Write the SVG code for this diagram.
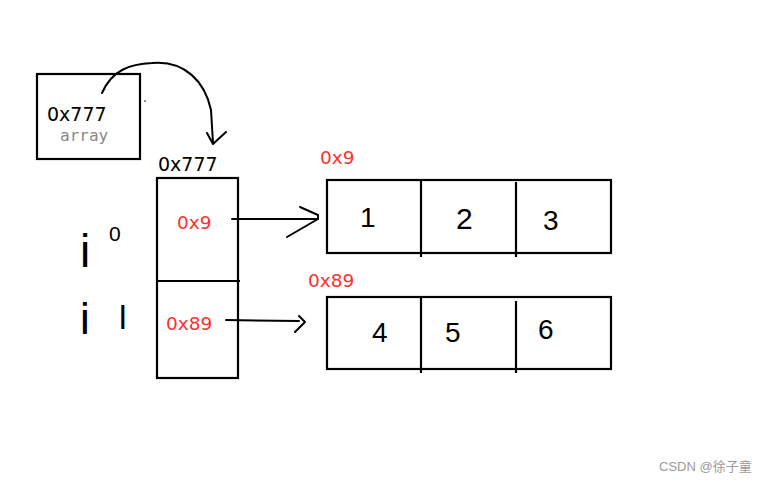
<svg xmlns="http://www.w3.org/2000/svg" width="774" height="484" viewBox="0 0 774 484">
<style>
.box{fill:none;stroke:#000;stroke-width:2.2}
.ln{fill:none;stroke:#000;stroke-width:2;stroke-linecap:round;stroke-linejoin:round}
.blk{font-family:"DejaVu Sans","Liberation Sans",sans-serif;font-size:19px;fill:#000}
.red{font-family:"DejaVu Sans","Liberation Sans",sans-serif;font-size:18.5px;fill:#ff3030}
.hand{font-family:"Liberation Sans",sans-serif;font-size:28px;fill:#000}
</style>
<rect width="774" height="484" fill="#fff"/>
<g id="array-var">
<rect class="box" x="37" y="74" width="103" height="85"/>
<text class="blk" x="47" y="121">0x777</text>
<text x="60" y="141" font-family="DejaVu Sans Mono,Liberation Mono,monospace" font-size="16" fill="#888">array</text>
<circle cx="145" cy="101" r="0.8" fill="#000"/>
</g>
<g id="pointer-array">
<text class="blk" x="158" y="171">0x777</text>
<rect class="box" x="157" y="178" width="81" height="200"/>
<line class="box" x1="157" y1="281" x2="240" y2="281"/>
<text class="red" x="177" y="229">0x9</text>
<text class="red" x="166" y="330">0x89</text>
</g>
<g id="index-labels">
<text class="hand" x="80" y="267" style="font-size:46px">i</text>
<text class="hand" x="109" y="241" style="font-size:21px">0</text>
<text class="hand" x="80" y="334" style="font-size:44px">i</text>
<text class="hand" x="119" y="329" style="font-size:34px">l</text>
</g>
<g id="row0">
<text class="red" x="320" y="164">0x9</text>
<rect class="box" x="327" y="180" width="284" height="73"/>
<line class="box" x1="421" y1="180" x2="421" y2="257"/>
<line class="box" x1="516" y1="182" x2="516" y2="257"/>
<text class="hand" x="360" y="227">1</text>
<text class="hand" x="456" y="229" style="font-size:30px">2</text>
<text class="hand" x="543" y="230">3</text>
</g>
<g id="row1">
<text class="red" x="308" y="287">0x89</text>
<rect class="box" x="327" y="297" width="284" height="72"/>
<line class="box" x1="421" y1="297" x2="421" y2="373"/>
<line class="box" x1="516" y1="301" x2="516" y2="373"/>
<text class="hand" x="372" y="342">4</text>
<text class="hand" x="445" y="342">5</text>
<text class="hand" x="538" y="339">6</text>
</g>
<g id="connectors">
<path class="ln" d="M102,93 C112,70 130,64 152,63 C185,60 205,82 211,110 L213,143"/>
<path class="ln" d="M207,133 L213,144 L226,132"/>
<path class="ln" d="M232,219 L318,219"/>
<path class="ln" d="M300,207 L318,215 L318,219 L287,237"/>
<path class="ln" d="M226,320 L299,321"/>
<path class="ln" d="M299,316 L305,322 L295,332"/>
</g>
<text x="659" y="471" font-family="Liberation Sans,Noto Sans CJK SC,sans-serif" font-size="13" fill="#9a9a9a">CSDN @徐子童</text>
</svg>
